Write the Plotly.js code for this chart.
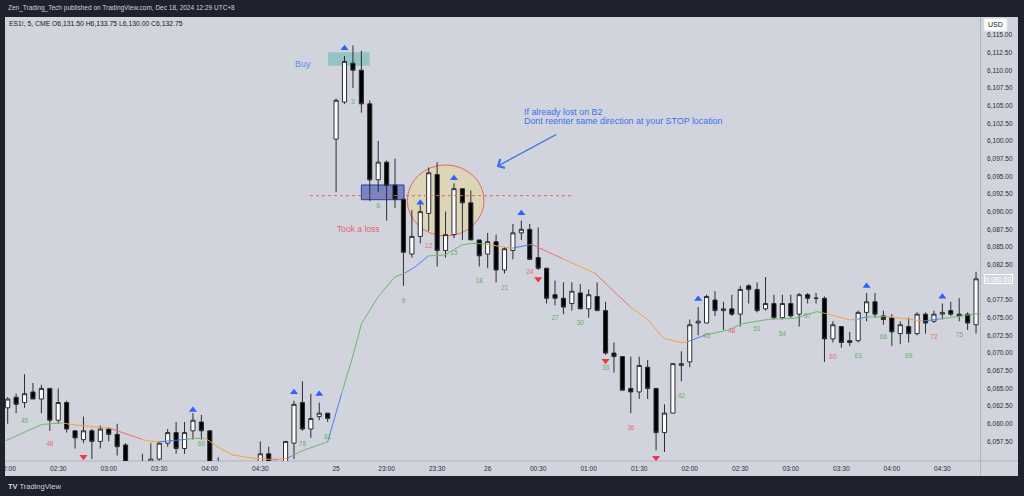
<!DOCTYPE html>
<html><head><meta charset="utf-8">
<script src="https://cdn.plot.ly/plotly-3.0.1.min.js"></script>
<style>html,body{margin:0;padding:0;background:#1e222d;}#c{width:1024px;height:496px;}</style>
</head><body><div id="c"></div>
<script>
// ---- candle data (5-min bars, bar index = position in array) ----
const opens = [6062.25,6063.75,6063.0,6064.5,6063.5,6065.0,6060.5,6063.0,6059.0,6057.75,
6059.0,6057.5,6059.25,6058.5,6057.0,6054.25,6053.5,6054.25,6055.0,6057.25,
6058.75,6056.5,6059.0,6060.25,6059.0,6054.5,6053.75,6053.25,6053.75,6053.0,
6054.5,6055.75,6054.5,6054.25,6057.25,6063.0,6059.25,6061.0,6061.5,6100.25,
6105.5,6111.0,6110.0,6105.25,6094.5,6097.0,6093.75,6091.75,6084.0,6086.5,
6089.75,6095.25,6084.5,6086.75,6093.25,6091.25,6086.0,6084.0,6085.75,6081.75,
6084.5,6087.0,6087.5,6083.5,6082.0,6078.25,6077.75,6077.0,6078.5,6076.25,
6078.0,6076.0,6070.0,6069.5,6065.0,6064.5,6068.0,6065.0,6058.75,6061.5,
6068.25,6068.75,6074.25,6074.25,6077.5,6076.0,6076.25,6075.5,6079.5,6079.0,
6076.25,6077.0,6075.0,6077.0,6075.5,6078.25,6077.75,6077.75,6072.0,6073.75,
6071.75,6071.75,6075.75,6077.25,6075.25,6075.0,6072.75,6073.75,6072.75,6075.5,
6074.5,6075.5,6076.0,6075.5,6075.5,6074.0];
const highs = [6063.75,6064.25,6067.0,6065.75,6065.5,6065.0,6065.0,6063.25,6059.0,6061.0,
6059.25,6059.75,6059.5,6060.0,6057.25,6054.5,6055.75,6057.25,6057.5,6059.25,
6060.25,6060.25,6061.5,6061.25,6059.0,6055.25,6054.5,6054.25,6054.5,6054.0,
6057.5,6056.75,6054.5,6057.5,6063.25,6066.0,6064.25,6063.0,6061.5,6106.0,
6112.0,6113.5,6112.75,6105.75,6100.0,6097.25,6097.5,6091.75,6090.25,6091.0,
6096.25,6097.0,6090.0,6094.0,6093.25,6093.0,6086.0,6087.0,6086.75,6085.0,
6088.25,6088.75,6088.25,6087.75,6082.0,6080.25,6080.0,6080.0,6079.75,6079.0,
6080.0,6077.25,6071.5,6069.5,6069.5,6069.5,6069.0,6065.0,6062.75,6068.5,
6070.25,6074.75,6076.5,6078.25,6078.75,6077.25,6078.25,6079.5,6079.75,6080.0,
6080.75,6078.25,6078.25,6078.25,6078.5,6078.5,6078.5,6078.0,6074.5,6073.75,
6073.0,6076.0,6078.5,6078.5,6076.0,6075.5,6074.5,6075.0,6075.75,6075.75,
6076.0,6077.0,6077.25,6077.75,6075.75,6081.5];
const lows = [6060.0,6061.5,6062.25,6063.5,6061.5,6059.0,6060.0,6058.75,6056.5,6057.25,
6055.0,6056.5,6057.5,6055.5,6053.75,6053.0,6053.25,6054.0,6054.75,6056.75,
6055.75,6055.75,6057.75,6057.75,6054.0,6053.5,6052.75,6052.5,6052.75,6052.5,
6054.0,6054.0,6053.5,6054.0,6055.0,6059.0,6058.0,6060.5,6060.25,6092.75,
6105.25,6107.5,6104.0,6091.5,6092.75,6088.75,6090.5,6079.5,6083.5,6085.5,
6087.25,6082.25,6083.5,6086.25,6086.0,6086.0,6082.25,6082.0,6080.0,6081.25,
6083.25,6086.0,6083.25,6081.75,6077.0,6076.75,6075.5,6076.0,6076.25,6075.0,
6076.0,6069.75,6067.25,6064.75,6061.5,6063.5,6063.5,6056.25,6056.0,6061.5,
6066.0,6068.0,6072.5,6074.25,6075.25,6073.25,6075.25,6073.75,6077.0,6075.75,
6076.0,6074.75,6074.75,6075.0,6073.75,6077.0,6077.0,6068.75,6071.5,6070.75,
6071.0,6071.5,6074.5,6075.0,6074.0,6071.0,6071.25,6071.5,6072.5,6072.75,
6074.25,6074.75,6075.25,6074.5,6073.25,6072.75];
const closes = [6063.5,6062.75,6064.25,6063.5,6065.0,6060.5,6063.0,6059.25,6058.0,6059.0,
6057.5,6059.25,6058.5,6056.75,6054.25,6053.5,6054.5,6055.0,6057.25,6058.75,
6056.5,6058.75,6060.5,6059.0,6054.5,6053.75,6053.25,6053.75,6053.0,6053.5,
6055.75,6054.5,6054.25,6057.5,6062.75,6059.25,6060.75,6061.5,6060.75,6105.75,
6111.25,6110.0,6105.25,6094.5,6097.0,6093.75,6091.75,6084.25,6086.5,6090.0,
6095.5,6084.5,6086.75,6093.25,6091.25,6086.0,6083.75,6085.75,6081.75,6084.75,
6087.0,6087.5,6083.25,6082.0,6077.75,6077.75,6076.5,6078.75,6076.25,6078.25,
6076.0,6070.0,6069.5,6064.75,6064.5,6068.25,6065.0,6058.75,6061.5,6068.5,
6068.5,6074.0,6074.5,6078.0,6076.0,6076.25,6075.5,6079.0,6079.0,6076.0,
6077.0,6075.0,6077.0,6075.25,6078.25,6077.75,6077.75,6072.0,6074.0,6071.5,
6071.5,6075.75,6077.25,6075.5,6074.75,6073.0,6074.0,6072.75,6075.5,6074.25,
6075.5,6075.75,6075.5,6075.25,6074.25,6080.5];

// ---- time axis ----
const tickIdx  = [0,6,12,18,24,30,39,45,51,57,63,69,75,81,87,93,99,105,111];
const tickText = ["02:00","02:30","03:00","03:30","04:00","04:30","25","23:00","23:30","26","00:30","01:00","01:30","02:00","02:30","03:00","03:30","04:00","04:30"];

// ---- price axis ----
const priceTicks = [6057.5,6060,6062.5,6065,6067.5,6070,6072.5,6075,6077.5,6082.5,6085,6087.5,6090,6092.5,6095,6097.5,6100,6102.5,6105,6107.5,6110,6112.5,6115];
const lastPrice = 6080.5;

// ---- moving average line (bar index, price, colour of following segment) ----
const maIdx = [-0.24,4.04,6.45,7.52,10.96,12.15,13.34,14.88,15.83,16.66,18.09,19.51,21.26,22.24,23.31,23.79,25.21,26.76,29.13,31.15,32.10,33.17,33.76,34.71,38.0,39.67,40.86,42.04,44.01,46.0,47.19,48.37,49.95,51.93,53.92,55.11,56.69,59.86,62.23,65.8,69.75,73.9,76.08,77.86,80.05,80.8,82.81,85.58,87.17,90.33,93.5,96.08,97.07,100.04,100.87,101.93,104.43,108.74,110.72,115.47];
const maVal = [6057.6,6059.89,6060.13,6059.89,6059.5,6059.36,6058.9,6058.3,6057.84,6057.56,6057.46,6057.63,6057.8,6057.94,6057.94,6057.7,6056.53,6055.58,6055.11,6054.97,6054.97,6055.11,6055.44,6056.05,6057.46,6064.31,6069.02,6074.21,6077.97,6080.8,6081.32,6082.17,6083.73,6083.87,6085.28,6085.52,6085.42,6084.82,6085.38,6083.4,6081.28,6076.56,6074.67,6072.09,6071.46,6071.63,6072.55,6073.26,6074.11,6074.77,6074.92,6075.85,6075.62,6074.67,6074.77,6075.1,6075.14,6074.53,6074.82,6075.62];
const maCol = ["g","g","o","o","o","r","r","r","o","o","b","b","g","g","o","o","o","o","o","r","o","b","g","g","b","g","g","g","g","g","b","b","g","g","g","g","o","b","r","o","r","o","o","o","o","b","g","g","g","g","g","g","o","o","b","g","o","b","g"];

// ---- bar counter labels ----
const cntIdx = [2,5,23,35,38,41,44,47,50,53,56,59,62,65,68,71,74,80,83,86,89,92,95,98,101,104,107,110,113];
const cntPos = [6060.29,6057.09,6057.04,6057.09,6058.07,6105.51,6090.7,6077.36,6085.14,6084.15,6080.09,6079.16,6081.36,6074.92,6074.21,6067.89,6059.4,6063.83,6072.31,6073.12,6073.4,6072.65,6075.14,6069.34,6069.58,6072.17,6069.58,6072.17,6072.55];
const cntText = ["45","48","66","78","81","3","6","9","12","15","18","21","24","27","30","33","36","42","45","48","51","54","57","60","63","66","69","72","75"];
const cntKind = ["g","r","g","g","g","g","g","g","r","g","g","g","r","g","g","g","r","g","g","r","g","g","g","r","g","g","g","r","g"];

// ---- signal triangles ----
const upIdx = [22,34,37,40,49,53,61,82,102,111];
const upPos = [6061.94,6064.45,6064.21,6113.1,6091.27,6094.72,6089.77,6077.64,6079.48,6077.97];
const dnIdx = [9,63,71,77];
const dnPos = [6055.34,6080.47,6068.92,6055.2];

// ---- drawing ----
const barIdx = opens.map((_, i) => i);
const MA_COLORS = {g:'#6cb86e', o:'#f2a244', r:'#f06b70', b:'#4f7ef0'};
const CNT_COLORS = {g:'#62b067', r:'#f0676d'};
const FONT = 'Liberation Sans, Arial, sans-serif';

const traces = [];
traces.push({
  type:'candlestick', x:barIdx, open:opens, high:highs, low:lows, close:closes,
  increasing:{line:{color:'#2b2d33', width:1}, fillcolor:'#ffffff'},
  decreasing:{line:{color:'#2b2d33', width:1}, fillcolor:'#000000'},
  whiskerwidth:0, hoverinfo:'skip', showlegend:false
});
// MA runs
let s = 0;
for (let k = 1; k <= maCol.length; k++) {
  if (k === maCol.length || maCol[k] !== maCol[s]) {
    traces.push({type:'scatter', mode:'lines', x:maIdx.slice(s, k+1), y:maVal.slice(s, k+1),
      line:{color:MA_COLORS[maCol[s]], width:1}, hoverinfo:'skip', showlegend:false});
    s = k;
  }
}
traces.push({type:'scatter', mode:'text', x:cntIdx, y:cntPos, text:cntText,
  textfont:{family:FONT, size:6.5, color:cntKind.map(k => CNT_COLORS[k])},
  hoverinfo:'skip', showlegend:false});
traces.push({type:'scatter', mode:'markers', x:upIdx, y:upPos,
  marker:{symbol:'triangle-up', size:7, color:'#2962ff'}, hoverinfo:'skip', showlegend:false});
traces.push({type:'scatter', mode:'markers', x:dnIdx, y:dnPos,
  marker:{symbol:'triangle-down', size:7, color:'#f23645'}, hoverinfo:'skip', showlegend:false});

// pixel helpers for paper-anchored decorations (plot area 5..980 x 17..461)
const PL = 5, PR = 980, PT = 17, PB = 461;
const px = v => (v - PL) / (PR - PL);
const py = v => (PB - v) / (PB - PT);

const shapes = [
  {type:'rect', xref:'x', yref:'y', x0:38.04, x1:42.99, y0:6110.64, y1:6112.54, layer:'below',
   fillcolor:'rgba(76,175,170,0.45)', line:{width:0}},
  {type:'rect', xref:'x', yref:'y', x0:42.0, x1:47.07, y0:6091.69, y1:6093.77, layer:'below',
   fillcolor:'rgba(40,70,175,0.55)', line:{color:'#2c3f9c', width:1}},
  {type:'circle', xref:'x', yref:'y', x0:47.46, x1:56.57, y0:6086.56, y1:6096.6, layer:'below',
   fillcolor:'rgba(236,214,140,0.45)', line:{color:'#f0625f', width:1}},
  {type:'line', xref:'x', yref:'y', x0:35.9, x1:67.1, y0:6092.26, y1:6092.26, layer:'above',
   line:{color:'#f0625f', width:1, dash:'dot'}},
  {type:'line', xref:'paper', yref:'paper', x0:px(980.5), x1:px(980.5), y0:py(17), y1:py(476),
   line:{color:'rgba(120,123,134,0.35)', width:1}},
  {type:'line', xref:'paper', yref:'paper', x0:px(5), x1:px(1018), y0:py(461), y1:py(461),
   line:{color:'rgba(120,123,134,0.35)', width:1}},
  {type:'rect', xref:'paper', yref:'paper', x0:px(-2), x1:px(1026), y0:py(-2), y1:py(17), layer:'above',
   fillcolor:'#1e222d', line:{width:0}},
  {type:'rect', xref:'paper', yref:'paper', x0:px(-2), x1:px(1026), y0:py(476), y1:py(498), layer:'above',
   fillcolor:'#1e222d', line:{width:0}},
  {type:'rect', xref:'paper', yref:'paper', x0:px(-2), x1:px(5), y0:py(-2), y1:py(498), layer:'above',
   fillcolor:'#1e222d', line:{width:0}},
  {type:'rect', xref:'paper', yref:'paper', x0:px(1018), x1:px(1026), y0:py(-2), y1:py(498), layer:'above',
   fillcolor:'#1e222d', line:{width:0}},
  {type:'rect', xref:'paper', yref:'paper', x0:px(984), x1:px(1007), y0:py(18.5), y1:py(31), layer:'above',
   fillcolor:'#ffffff', line:{color:'#e0e3eb', width:1}}
];

const annotations = [
  {xref:'paper', yref:'paper', x:px(6), y:py(8.5), xanchor:'left', yanchor:'middle', showarrow:false,
   text:'Zen_Trading_Tech published on TradingView.com, Dec 18, 2024 12:29 UTC+8',
   font:{family:FONT, size:6.5, color:'#d1d4dc'}},
  {xref:'paper', yref:'paper', x:px(7), y:py(24), xanchor:'left', yanchor:'middle', showarrow:false,
   text:'ES1!, 5, CME O6,131.50 H6,133.75 L6,130.00 C6,132.75',
   font:{family:FONT, size:6.8, color:'#131722'}},
  {xref:'paper', yref:'paper', x:px(6), y:py(486), xanchor:'left', yanchor:'middle', showarrow:false,
   text:'<b>TV</b> TradingView', font:{family:FONT, size:7.5, color:'#d1d4dc'}},
  {xref:'paper', yref:'paper', x:px(995.5), y:py(24.5), xanchor:'center', yanchor:'middle', showarrow:false,
   text:'USD', font:{family:FONT, size:7, color:'#131722'}},
  {xref:'paper', yref:'y', x:px(998), y:lastPrice, xanchor:'center', yanchor:'middle', showarrow:false,
   text:'6,080.50', font:{family:FONT, size:6.6, color:'#ffffff'},
   bgcolor:'#d1d4dc', bordercolor:'#ffffff', borderwidth:1, borderpad:0.5},
  {xref:'x', yref:'y', x:35.1, y:6110.9, xanchor:'center', yanchor:'middle', showarrow:false,
   text:'Buy', font:{family:FONT, size:9, color:'#5b8cf0'}},
  {xref:'x', yref:'y', x:41.7, y:6087.6, xanchor:'center', yanchor:'middle', showarrow:false,
   text:'Took a loss', font:{family:FONT, size:8.5, color:'#f0606a'}},
  {xref:'x', yref:'y', x:61.05, y:6104.1, xanchor:'left', yanchor:'middle', showarrow:false,
   text:'If already lost on B2', font:{family:FONT, size:8.9, color:'#3b6ff0'}},
  {xref:'x', yref:'y', x:61.05, y:6102.8, xanchor:'left', yanchor:'middle', showarrow:false,
   text:'Dont reenter same direction at your STOP location', font:{family:FONT, size:8.9, color:'#3b6ff0'}},
  {xref:'x', yref:'y', x:58.08, y:6096.36, ax:61, ay:-33, text:'', showarrow:true,
   arrowhead:4, arrowsize:1.5, arrowwidth:1.3, arrowcolor:'#3b6ff0'}
];

const layout = {
  width:1024, height:496,
  margin:{l:5, r:44, t:17, b:35, pad:0},
  paper_bgcolor:'#d1d4dc', plot_bgcolor:'#d1d4dc',
  showlegend:false, hovermode:false, boxgap:0.3,
  font:{family:FONT, color:'#2a2e39'},
  xaxis:{type:'linear', range:[-0.32, 115.47], rangeslider:{visible:false},
    tickmode:'array', tickvals:tickIdx, ticktext:tickText, ticks:'', showgrid:false, zeroline:false,
    showline:false, tickfont:{family:FONT, size:6.6, color:'#2a2e39'}, ticklabeloverflow:'allow',
    ticklabelstandoff:2, fixedrange:true},
  yaxis:{side:'right', range:[6054.73, 6117.53], tickmode:'array', tickvals:priceTicks,
    ticktext:priceTicks.map(v => v.toLocaleString('en-US', {minimumFractionDigits:2, maximumFractionDigits:2})),
    ticks:'', showgrid:false, zeroline:false, showline:false, ticklabelstandoff:6,
    tickfont:{family:FONT, size:6.6, color:'#2a2e39'}, fixedrange:true},
  shapes:shapes, annotations:annotations
};

Plotly.newPlot('c', traces, layout, {staticPlot:true, displayModeBar:false});
</script></body></html>
